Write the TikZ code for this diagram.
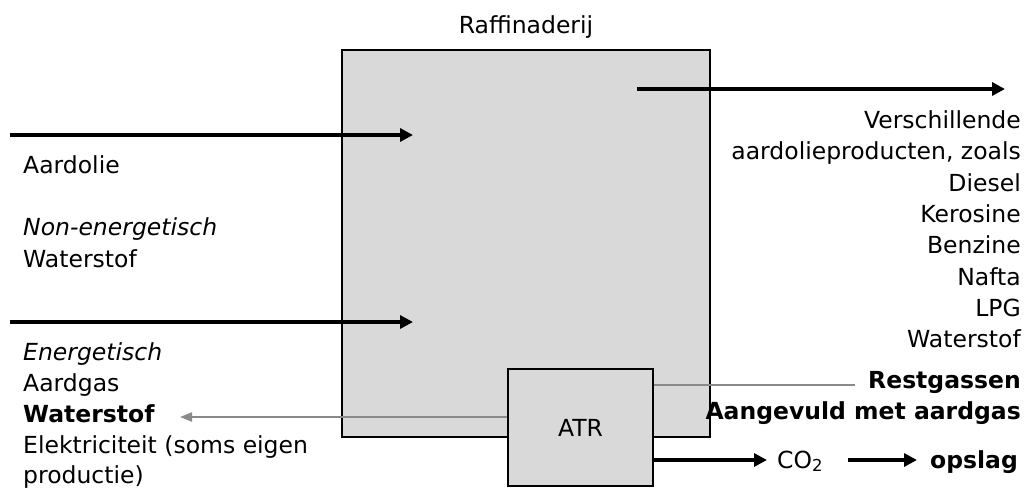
\documentclass[tikz,border=0pt]{standalone}
\usepackage{fontspec}
\setmainfont{DejaVu Sans}
\usetikzlibrary{arrows.meta}
\definecolor{boxgray}{HTML}{D9D9D9}
\definecolor{linegray}{HTML}{8A8A8A}
\begin{document}
\begin{tikzpicture}[x=1pt,y=-1pt,
  lbl/.style={inner sep=0pt, font=\fontsize{23.5}{30}\selectfont},
  lw/.style={lbl, anchor=base west},
  le/.style={lbl, anchor=base east},
  flow/.style={line width=3.5pt, -{Triangle[length=13pt,width=13pt]}},
  gflow/.style={line width=2pt, draw=linegray, -{Triangle[length=12pt,width=9pt]}},
  gline/.style={line width=2.5pt, draw=linegray},
  boxst/.style={draw, line width=1.6pt, fill=boxgray, inner sep=0pt}]
\useasboundingbox (0,0) rectangle (1031,488);

% main refinery box
\node[boxst, minimum width=368pt, minimum height=387pt] (main) at (526,243.5) {};
\node[lbl, anchor=base] (title) at (526,33) {Raffinaderij};

% ATR box
\node[boxst, minimum width=145pt, minimum height=117pt] (atr) at (580.5,427.5) {};
\node[lbl, anchor=base] (atrlbl) at (580.5,436) {ATR};

% left labels
\node[lw] (aardolie) at (23,173) {Aardolie};
\node[lw] (nonen) at (23,235) {\itshape Non-energetisch};
\node[lw] (ws1) at (23,267) {Waterstof};
\node[lw] (energ) at (23,360) {\itshape Energetisch};
\node[lw] (aardgas) at (23,391) {Aardgas};
\node[lw] (ws2) at (23,422) {\bfseries Waterstof};
\node[lw] (elek) at (23,453) {Elektriciteit (soms eigen};
\node[lw] (prod) at (23,483) {productie)};

% right labels
\node[le] (r1) at (1021,128) {Verschillende};
\node[le] (r2) at (1021,159.5) {aardolieproducten, zoals};
\node[le] (r3) at (1021,191) {Diesel};
\node[le] (r4) at (1021,222) {Kerosine};
\node[le] (r5) at (1021,253.5) {Benzine};
\node[le] (r6) at (1021,285) {Nafta};
\node[le] (r7) at (1021,316) {LPG};
\node[le] (r8) at (1021,347.5) {Waterstof};
\node[le] (rest) at (1021,388) {\bfseries Restgassen};
\node[le] (aanv) at (1021,419) {\bfseries Aangevuld met aardgas};

% bottom right labels
\node[lw] (co2) at (777,468) {CO\textsubscript{2}};
\node[lw] (opslag) at (930,468) {\bfseries opslag};

% coordinates for free ends
\coordinate (in1s) at (10,135);
\coordinate (in1e) at (413,135);
\coordinate (in2s) at (10,322);
\coordinate (in2e) at (413,322);
\coordinate (outs) at (637,89);
\coordinate (oute) at (1005,89);
\coordinate (wsend) at (180,417);
\coordinate (rgend) at (855,385);
\coordinate (co2tip) at (767,460);
\coordinate (co2s) at (848,460);
\coordinate (opstip) at (917,460);

% connectors
\draw[flow] (in1s) -- (in1e);
\draw[flow] (in2s) -- (in2e);
\draw[flow] (outs) -- (oute);
\draw[gflow] (atr.west |- wsend) -- (wsend);
\draw[gline] (atr.east |- rgend) -- (rgend);
\draw[flow] (atr.east |- co2tip) -- (co2tip);
\draw[flow] (co2s) -- (opstip);
\end{tikzpicture}
\end{document}
